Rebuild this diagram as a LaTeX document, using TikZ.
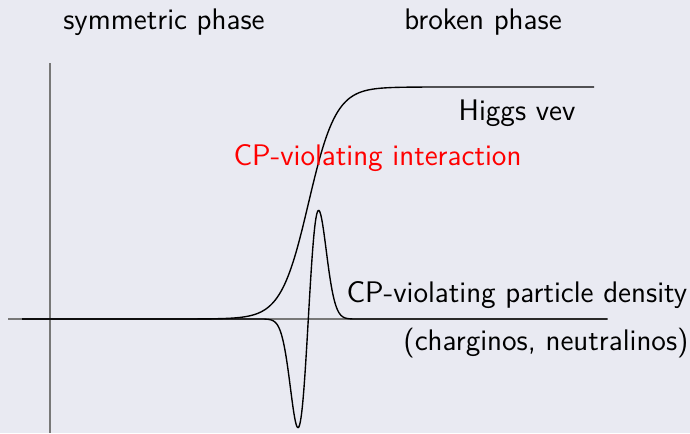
\documentclass[tikz,border=0pt]{standalone}
\usepackage{fontspec}
\definecolor{bg}{RGB}{233,234,242}
\definecolor{axisgray}{RGB}{120,120,120}
\begin{document}
\begin{tikzpicture}[x=0.4pt,y=-0.4pt,
  lbl/.style={inner sep=0pt,font=\sffamily\fontsize{11.9}{14}\selectfont},
  axisline/.style={draw=axisgray,line width=0.6pt},
  curve/.style={draw=black,line width=0.55pt}]
\useasboundingbox (0,0) rectangle (690,433);
\fill[bg] (0,0) rectangle (690,433);
\coordinate (xl) at (8,319);
\coordinate (xr) at (608,319);
\coordinate (yt) at (50,63);
\coordinate (yb) at (50,433);
\draw[axisline] (xl) -- (xr);
\draw[axisline] (yt) -- (yb);
\coordinate (h0) at (22,319);
\coordinate (h1) at (160,319);
\coordinate (h2) at (594,87);
\draw[curve] (h0) -- (h1) -- plot[domain=160:470,samples=300,smooth] (\x,{319-116*(1+tanh((\x-308.5)/27.5))}) -- (h2);
\coordinate (d0) at (22,319);
\coordinate (d1) at (255,319);
\coordinate (d2) at (607,319);
\draw[curve] (d0) -- (d1) -- plot[domain=255:365,samples=220,smooth] (\x,{319-179*((\x-308.3)/10.3)*exp(-0.5*((\x-308.3)/10.3)^2)}) -- (d2);
\node[lbl,anchor=base] (sym) at (164,29) {symmetric phase};
\node[lbl,anchor=base] (brk) at (483,29) {broken phase};
\node[lbl,anchor=base east] (higgs) at (576,120) {Higgs vev};
\node[lbl,anchor=base west,text=red] (cpi) at (233,165) {CP-violating interaction};
\node[lbl,anchor=base west] (cpd) at (346,302) {CP-violating particle density};
\node[lbl,anchor=base east] (chr) at (689,350) {(charginos, neutralinos)};
\end{tikzpicture}
\end{document}
